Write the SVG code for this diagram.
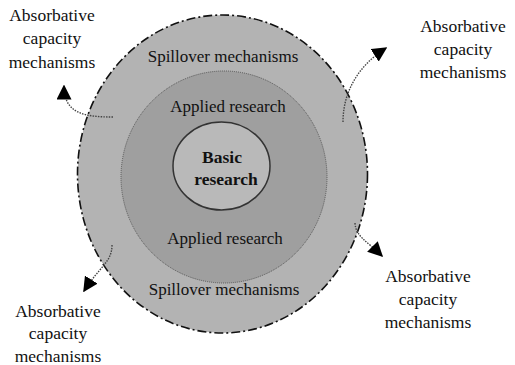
<svg xmlns="http://www.w3.org/2000/svg" width="515" height="365" viewBox="0 0 515 365">
<defs>
<marker id="ah" viewBox="0 0 10 10" refX="9" refY="5" markerWidth="15" markerHeight="15" markerUnits="userSpaceOnUse" orient="auto">
<path d="M0,0 L10,5 L0,10 Z" fill="#000"/>
</marker>
<style>
.t{font-family:"Liberation Serif","Times New Roman",serif;font-size:17px;fill:#111;text-anchor:middle}
.lab{font-family:"Liberation Serif","Times New Roman",serif;font-size:17.5px;fill:#111;text-anchor:middle}
.b{font-weight:bold;font-size:17.5px}
.conn{fill:none;stroke:#444;stroke-width:1.4;stroke-dasharray:1.5 1.2}
</style>
</defs>
<rect width="515" height="365" fill="#fff"/>
<g id="spillover">
<ellipse cx="222.5" cy="174" rx="145" ry="159" fill="#b3b3b3" stroke="#111" stroke-width="1.6" stroke-dasharray="9 3 2 3"/>
<text class="t" x="223" y="62">Spillover mechanisms</text>
<text class="t" x="224" y="295">Spillover mechanisms</text>
</g>
<g id="applied">
<ellipse cx="224" cy="177" rx="103" ry="106" fill="#9f9f9f" stroke="#555" stroke-width="1" stroke-dasharray="1 1"/>
<text class="t" x="228" y="112">Applied research</text>
<text class="t" x="225" y="244">Applied research</text>
</g>
<g id="basic">
<ellipse cx="221.5" cy="166" rx="48.5" ry="44" fill="#b9b9b9" stroke="#333" stroke-width="1.5"/>
<text class="t b" x="222" y="163">Basic</text>
<text class="t b" x="226" y="185">research</text>
</g>
<g id="label-tl">
<text class="lab" x="52" y="21">Absorbative</text>
<text class="lab" x="52" y="44">capacity</text>
<text class="lab" x="52" y="68">mechanisms</text>
</g>
<g id="label-tr">
<text class="lab" x="463" y="32">Absorbative</text>
<text class="lab" x="463" y="55">capacity</text>
<text class="lab" x="463" y="78">mechanisms</text>
</g>
<g id="label-bl">
<text class="lab" x="58" y="317">Absorbative</text>
<text class="lab" x="58" y="339">capacity</text>
<text class="lab" x="58" y="362">mechanisms</text>
</g>
<g id="label-br">
<text class="lab" x="428" y="282">Absorbative</text>
<text class="lab" x="428" y="305">capacity</text>
<text class="lab" x="428" y="328">mechanisms</text>
</g>
<g id="connectors">
<path class="conn" d="M113,117 C85,117 64,114 64,86" marker-end="url(#ah)"/>
<path class="conn" d="M343,122 C343,92 358,66 386,48" marker-end="url(#ah)"/>
<path class="conn" d="M112,245 C112,262 100,266 84,291" marker-end="url(#ah)"/>
<path class="conn" d="M355,223 C356,237 366,240 382,256" marker-end="url(#ah)"/>
</g>
</svg>
